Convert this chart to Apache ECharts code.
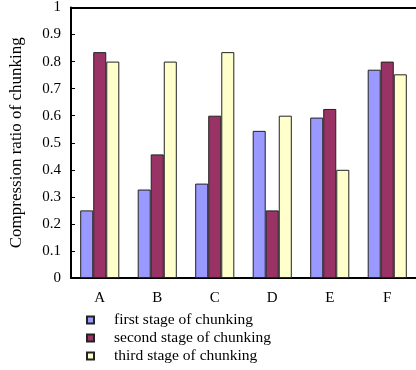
<!DOCTYPE html>
<html>
<head>
<meta charset="utf-8">
<script src="https://cdn.jsdelivr.net/npm/echarts@6/dist/echarts.min.js"></script>
<style>html,body{margin:0;padding:0;background:#fff;}#c{width:416px;height:370px;}</style>
</head>
<body>
<div id="c"></div>
<script>
var categories = ['A', 'B', 'C', 'D', 'E', 'F'];
var firstStage = [0.25, 0.327, 0.349, 0.544, 0.593, 0.77];
var secondStage = [0.835, 0.457, 0.60, 0.25, 0.625, 0.80];
var thirdStage = [0.80, 0.80, 0.835, 0.60, 0.40, 0.753];
var seriesNames = ['first stage of chunking', 'second stage of chunking', 'third stage of chunking'];
var yTicks = [0, 0.1, 0.2, 0.3, 0.4, 0.5, 0.6, 0.7, 0.8, 0.9, 1];

var font = 'Liberation Serif';
var chart = echarts.init(document.getElementById('c'));
function bar(name, data, color) {
  return {
    name: name, type: 'bar', data: data, barGap: '0%', barCategoryGap: '32%',
    itemStyle: { color: color, borderColor: '#222', borderWidth: 1 },
    emphasis: { disabled: true }
  };
}
chart.setOption({
  animation: false,
  backgroundColor: '#fff',
  textStyle: { fontFamily: font },
  grid: { left: 69, top: 6, width: 354, height: 272, containLabel: false },
  legend: {
    orient: 'vertical', left: 86, top: 311, itemWidth: 7, itemHeight: 7, itemGap: 0,
    padding: 0, height: 60, icon: 'rect',
    textStyle: { fontFamily: font, fontSize: 15.5, lineHeight: 18, color: '#000', padding: [0, 0, 0, 15] },
    data: seriesNames
  },
  xAxis: [{
    type: 'category', data: categories,
    axisLine: { lineStyle: { color: '#000', width: 2 } },
    axisTick: { inside: true, length: 4, lineStyle: { color: '#000' } },
    axisLabel: { fontFamily: font, fontSize: 15, color: '#000', margin: 13 }
  }, {
    type: 'category', data: categories, position: 'top',
    axisLine: { lineStyle: { color: '#000', width: 2 } },
    axisTick: { show: false }, axisLabel: { show: false }
  }],
  yAxis: {
    type: 'value', min: 0, max: 1, interval: 0.1,
    name: 'Compression ratio of chunking', nameLocation: 'middle', nameGap: 46,
    nameTextStyle: { fontFamily: font, fontSize: 17, color: '#000' },
    axisLine: { show: true, lineStyle: { color: '#000', width: 2 } },
    axisTick: { show: true, inside: true, length: 4, lineStyle: { color: '#000' } },
    splitLine: { show: false },
    axisLabel: {
      fontFamily: font, fontSize: 15, color: '#000', margin: 10,
      formatter: function (v) { var r = Math.round(v * 10) / 10; return yTicks.indexOf(r) >= 0 ? String(r) : ''; }
    }
  },
  series: [
    bar(seriesNames[0], firstStage, '#9999FF'),
    bar(seriesNames[1], secondStage, '#993366'),
    bar(seriesNames[2], thirdStage, '#FFFFCC')
  ]
});
</script>
</body>
</html>
